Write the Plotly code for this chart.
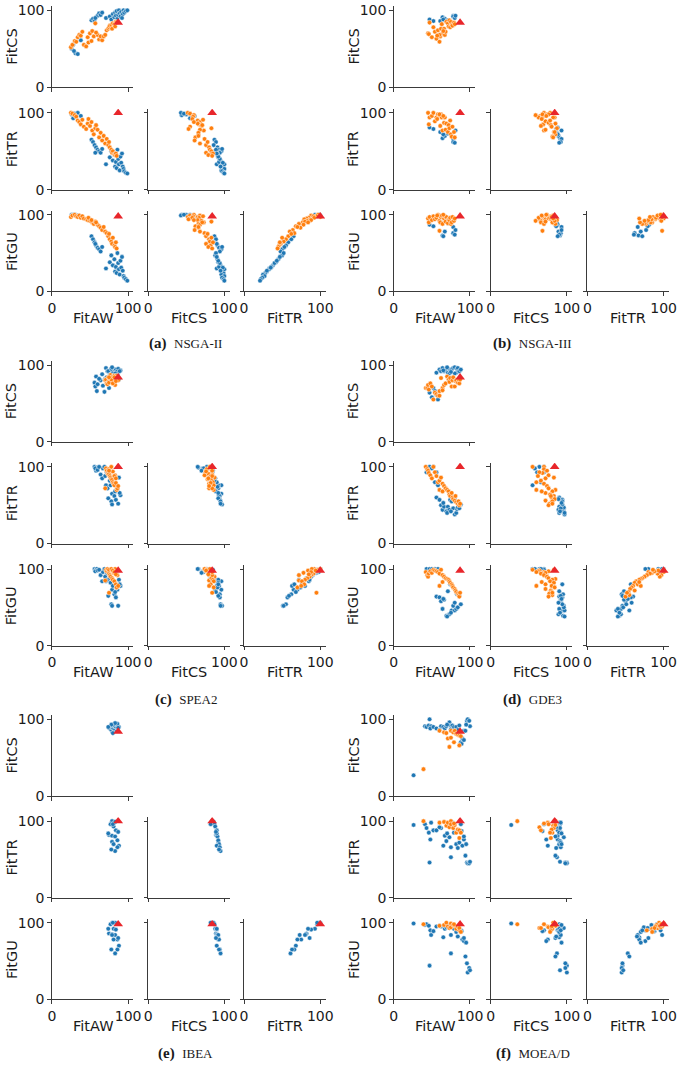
import plotly.graph_objects as go

# ---------------- data (AW, CS, TR, GU) ----------------
OBJECTIVES = ["FitAW", "FitCS", "FitTR", "FitGU"]
TICK_VALUES = [0, 100]
TICK_LABELS = ["0", "100"]
REFERENCE = [87, 84, 100, 98]

NSGA2_BLUE = [
    [26, 50, 98, 100], [28, 55, 93, 100], [31, 44, 97, 100], [34, 43, 100, 99],
    [38, 61, 96, 98], [29, 47, 99, 100],
    [52, 87, 65, 72], [54, 89, 62, 68], [56, 86, 58, 64], [58, 91, 55, 60],
    [60, 93, 52, 57], [62, 96, 50, 55], [64, 94, 48, 52], [66, 97, 53, 58],
    [57, 90, 48, 62],
    [71, 90, 33, 30], [76, 92, 42, 38], [78, 88, 50, 47], [80, 95, 38, 34],
    [82, 91, 45, 42], [83, 97, 30, 26], [84, 93, 36, 32], [85, 99, 28, 24],
    [86, 89, 52, 50], [87, 94, 40, 37], [88, 100, 33, 29], [89, 96, 25, 22],
    [90, 92, 43, 40], [91, 98, 35, 31], [93, 95, 30, 27], [94, 100, 27, 20],
    [95, 97, 24, 18], [97, 99, 22, 16], [99, 100, 21, 14], [92, 90, 47, 45],
]
NSGA2_ORANGE = [
    [25, 52, 100, 97], [27, 55, 99, 99], [30, 60, 97, 100], [32, 59, 95, 98],
    [34, 65, 90, 97], [36, 68, 88, 99], [38, 67, 85, 96], [40, 72, 91, 98],
    [42, 55, 82, 95], [45, 53, 79, 94], [47, 65, 86, 93], [50, 70, 83, 92],
    [53, 73, 77, 90], [55, 66, 72, 88], [57, 83, 80, 91], [60, 68, 78, 87],
    [62, 62, 68, 85], [64, 66, 74, 83], [66, 61, 64, 80], [68, 66, 70, 84],
    [70, 68, 60, 78], [72, 74, 66, 76], [74, 76, 58, 72], [75, 78, 62, 75],
    [76, 80, 55, 68], [78, 81, 52, 65], [79, 76, 48, 62], [80, 83, 50, 70],
    [82, 82, 46, 60], [83, 79, 45, 58], [84, 85, 47, 64], [85, 84, 44, 56],
    [48, 58, 92, 96], [52, 60, 88, 93], [58, 71, 84, 90],
]

NSGA3_BLUE = [
    [47, 88, 81, 87], [52, 86, 79, 85], [61, 86, 75, 91], [64, 91, 67, 73],
    [67, 89, 70, 78], [71, 87, 73, 89], [78, 93, 66, 84], [78, 92, 62, 76],
    [80, 90, 61, 74], [81, 93, 77, 80], [65, 88, 72, 72],
]
NSGA3_ORANGE = [
    [45, 70, 100, 95], [46, 69, 85, 90], [47, 84, 94, 97], [50, 65, 96, 93],
    [52, 78, 100, 98], [54, 72, 89, 94], [56, 63, 94, 96], [58, 74, 98, 100],
    [60, 59, 97, 92], [61, 66, 83, 90], [62, 76, 98, 97], [63, 82, 94, 99],
    [64, 70, 77, 88], [66, 76, 87, 95], [67, 68, 94, 98], [68, 72, 78, 91],
    [69, 85, 86, 97], [60, 68, 98, 79], [71, 83, 75, 89], [72, 79, 84, 94],
    [73, 87, 80, 93], [74, 78, 90, 96], [75, 85, 72, 88], [76, 81, 69, 90],
    [77, 80, 82, 97], [79, 84, 75, 92], [80, 82, 68, 95], [57, 67, 92, 99],
    [65, 73, 96, 100],
]

SPEA2_BLUE = [
    [56, 77, 100, 100], [58, 85, 95, 99], [59, 66, 99, 100], [57, 72, 98, 97],
    [60, 75, 96, 98], [64, 80, 90, 92], [66, 88, 85, 84], [67, 73, 98, 96],
    [69, 65, 100, 100], [70, 82, 88, 90], [71, 96, 76, 84], [73, 92, 72, 86],
    [75, 70, 95, 95], [77, 92, 76, 82], [79, 96, 65, 73], [80, 90, 80, 78],
    [82, 94, 62, 67], [84, 94, 57, 63], [86, 88, 70, 73], [88, 81, 86, 86],
    [90, 93, 63, 78], [74, 92, 59, 65], [78, 95, 55, 54], [79, 97, 51, 52],
    [87, 95, 52, 52], [85, 91, 74, 76], [83, 89, 68, 70], [72, 84, 93, 95],
    [62, 82, 100, 99], [76, 87, 82, 88], [89, 92, 66, 80],
]
SPEA2_ORANGE = [
    [70, 80, 72, 85], [71, 81, 98, 99], [72, 76, 95, 97], [73, 75, 92, 100],
    [74, 84, 90, 96], [75, 79, 91, 94], [76, 82, 88, 92], [77, 87, 86, 90],
    [78, 78, 84, 98], [79, 83, 83, 88], [80, 85, 80, 86], [81, 80, 78, 95],
    [82, 86, 76, 84], [83, 74, 89, 100], [84, 82, 79, 80], [85, 86, 70, 76],
    [86, 84, 72, 92], [87, 80, 75, 78], [75, 77, 97, 99], [78, 81, 100, 100],
    [80, 76, 94, 98], [82, 84, 88, 96], [84, 79, 85, 93], [75, 84, 95, 69],
]

GDE3_BLUE = [
    [43, 70, 93, 100], [47, 64, 100, 100], [52, 70, 100, 99], [54, 66, 80, 100],
    [56, 61, 93, 98], [58, 55, 76, 100], [50, 58, 98, 100],
    [56, 90, 60, 64], [60, 94, 57, 63], [62, 92, 50, 58], [64, 96, 44, 48],
    [66, 92, 48, 60], [69, 95, 42, 39], [71, 90, 48, 71], [73, 89, 44, 41],
    [74, 94, 57, 80], [76, 94, 55, 46], [78, 96, 46, 52], [80, 97, 38, 46],
    [82, 90, 40, 48], [83, 95, 45, 67], [84, 96, 47, 50], [86, 92, 46, 65],
    [88, 94, 51, 54], [70, 97, 40, 38], [65, 93, 53, 61], [80, 89, 58, 56],
    [75, 91, 42, 43],
]
GDE3_ORANGE = [
    [42, 70, 100, 96], [44, 70, 97, 92], [45, 74, 95, 90], [46, 68, 92, 94],
    [48, 76, 89, 97], [50, 72, 85, 95], [52, 55, 100, 99], [54, 64, 93, 98],
    [56, 62, 88, 97], [58, 60, 80, 96], [60, 66, 82, 94], [62, 83, 86, 99],
    [64, 70, 78, 92], [66, 74, 75, 90], [68, 76, 72, 88], [70, 85, 70, 87],
    [72, 81, 68, 86], [73, 78, 64, 84], [74, 83, 62, 82], [76, 72, 66, 80],
    [77, 80, 60, 78], [78, 84, 58, 76], [80, 72, 56, 74], [81, 79, 62, 72],
    [82, 80, 54, 70], [84, 77, 52, 68], [85, 81, 55, 66], [86, 76, 50, 64],
    [87, 81, 52, 69], [60, 60, 70, 78], [64, 67, 68, 83],
]

IBEA_BLUE = [
    [79, 84, 100, 100], [83, 86, 99, 100], [77, 87, 96, 98], [81, 88, 93, 92],
    [84, 90, 88, 91], [75, 89, 82, 86], [79, 90, 81, 85], [83, 91, 80, 84],
    [79, 92, 73, 84], [86, 92, 75, 78], [81, 93, 70, 78], [88, 90, 68, 70],
    [86, 94, 66, 65], [83, 95, 61, 60], [78, 93, 63, 65], [80, 82, 96, 100],
    [74, 90, 84, 92], [87, 89, 86, 80],
]
IBEA_ORANGE = []

MOEAD_BLUE = [
    [26, 27, 95, 99], [41, 91, 96, 97], [43, 90, 91, 98], [46, 92, 85, 96],
    [47, 100, 46, 44], [49, 91, 98, 84], [48, 88, 76, 90], [52, 90, 88, 89],
    [56, 88, 88, 95], [62, 91, 91, 95], [65, 90, 68, 81], [67, 88, 81, 92],
    [69, 91, 74, 94], [73, 96, 79, 93], [75, 92, 66, 84], [75, 87, 53, 60],
    [77, 92, 98, 96], [79, 90, 85, 92], [82, 90, 70, 88], [86, 92, 72, 90],
    [88, 70, 96, 90], [89, 68, 87, 89], [90, 75, 68, 78], [92, 73, 76, 76],
    [92, 85, 80, 80], [94, 85, 55, 56], [96, 98, 46, 47], [97, 100, 45, 35],
    [99, 98, 45, 41], [100, 91, 47, 38], [95, 93, 70, 74], [84, 86, 65, 82],
    [60, 86, 92, 96], [70, 93, 84, 97],
]
MOEAD_ORANGE = [
    [39, 35, 100, 98], [60, 85, 98, 96], [66, 83, 99, 97], [69, 82, 94, 100],
    [71, 75, 98, 95], [73, 64, 92, 93], [75, 85, 100, 99], [75, 76, 96, 94],
    [78, 83, 91, 97], [80, 85, 95, 96], [82, 81, 85, 92], [84, 80, 89, 95],
    [86, 79, 78, 90], [86, 66, 88, 93], [88, 78, 85, 88], [79, 70, 97, 98],
]

PANEL_TAGS = ["(a)", "(b)", "(c)", "(d)", "(e)", "(f)"]
PANEL_NAMES = ["NSGA-II", "NSGA-III", "SPEA2", "GDE3", "IBEA", "MOEA/D"]
PANEL_BLUE = [NSGA2_BLUE, NSGA3_BLUE, SPEA2_BLUE, GDE3_BLUE, IBEA_BLUE, MOEAD_BLUE]
PANEL_ORANGE = [NSGA2_ORANGE, NSGA3_ORANGE, SPEA2_ORANGE, GDE3_ORANGE, IBEA_ORANGE, MOEAD_ORANGE]

# ---------------- layout geometry (pixels) ----------------
W, H = 685, 1071
COL_LEFT = [[48.7, 146.7, 244.3], [396.7, 495.3, 593.8]]
ROW_BOTTOM = [[84, 187.7, 290.7], [442.7, 545.7, 649], [801, 904, 1006.7]]
UNIT = 0.776
XMAX, YMAX = 107, 105
AXW, AXH = XMAX * UNIT, YMAX * UNIT
YLABEL_X = [8, 356]
CAPTION_X = [185, 538]
CAPTION_Y = [343, 703.5, 1061.5]

BLUE = "#1f77b4"
ORANGE = "#ff7f0e"
RED = "#e8262b"
AXCOL = "#3a3a3a"
FONT = "DejaVu Sans"

fig = go.Figure()
layout = dict(width=W, height=H, margin=dict(l=0, r=0, t=0, b=0),
              paper_bgcolor="white", plot_bgcolor="white", showlegend=False,
              autosize=False)
annotations = []

k = 0
for p in range(6):
    gr, gc = p // 2, p % 2
    for r in range(3):
        yi = r + 1
        bottom = ROW_BOTTOM[gr][r]
        for c in range(r + 1):
            xi = c
            k += 1
            sfx = "" if k == 1 else str(k)
            left = COL_LEFT[gc][c]
            xa, ya = "x" + sfx, "y" + sfx
            blue, orange = PANEL_BLUE[p], PANEL_ORANGE[p]
            fig.add_trace(go.Scatter(
                x=[pt[xi] for pt in blue], y=[pt[yi] for pt in blue],
                mode="markers", xaxis=xa, yaxis=ya, hoverinfo="skip",
                marker=dict(size=4.6, color=BLUE, line=dict(color="white", width=0.5))))
            if orange:
                fig.add_trace(go.Scatter(
                    x=[pt[xi] for pt in orange], y=[pt[yi] for pt in orange],
                    mode="markers", xaxis=xa, yaxis=ya, hoverinfo="skip",
                    marker=dict(size=4.6, color=ORANGE, line=dict(color="white", width=0.5))))
            fig.add_trace(go.Scatter(
                x=[REFERENCE[xi]], y=[REFERENCE[yi]], mode="markers",
                xaxis=xa, yaxis=ya, hoverinfo="skip",
                marker=dict(symbol="triangle-up", size=8.5, color=RED)))
            common = dict(showgrid=False, zeroline=False, showline=True,
                          linecolor=AXCOL, linewidth=1, ticks="outside",
                          ticklen=3.5, tickwidth=1, tickcolor=AXCOL,
                          tickvals=TICK_VALUES, ticktext=TICK_LABELS,
                          tickfont=dict(family=FONT, size=14, color="#1a1a1a"),
                          fixedrange=True)
            layout["xaxis" + sfx] = dict(
                common, range=[0, XMAX], anchor=ya,
                domain=[left / W, (left + AXW) / W],
                showticklabels=(r == 2))
            layout["yaxis" + sfx] = dict(
                common, range=[0, YMAX], anchor=xa,
                domain=[1 - bottom / H, 1 - (bottom - AXH) / H],
                showticklabels=(c == 0))
            if c == 0:
                annotations.append(dict(
                    x=YLABEL_X[gc] / W, y=1 - (bottom - AXH / 2) / H,
                    xref="paper", yref="paper", xanchor="center", yanchor="middle",
                    text=OBJECTIVES[yi], textangle=-90, showarrow=False,
                    font=dict(family=FONT, size=14.5, color="#1a1a1a")))
            if r == 2:
                annotations.append(dict(
                    x=(left + AXW / 2) / W, y=1 - (bottom + 26.5) / H,
                    xref="paper", yref="paper", xanchor="center", yanchor="middle",
                    text=OBJECTIVES[xi], showarrow=False,
                    font=dict(family=FONT, size=14.5, color="#1a1a1a")))
    annotations.append(dict(
        x=CAPTION_X[gc] / W, y=1 - CAPTION_Y[gr] / H, xref="paper", yref="paper",
        xanchor="center", yanchor="middle",
        text="<b>" + PANEL_TAGS[p] + "</b>  <span style='font-size:13px'>"
             + PANEL_NAMES[p] + "</span>",
        showarrow=False,
        font=dict(family="Liberation Serif", size=15, color="#1a1a1a")))

layout["annotations"] = annotations
fig.update_layout(**layout)
fig.write_html("out.html", config={"displayModeBar": False},
               post_script="document.body.style.margin='0';document.body.style.overflow='hidden';")
